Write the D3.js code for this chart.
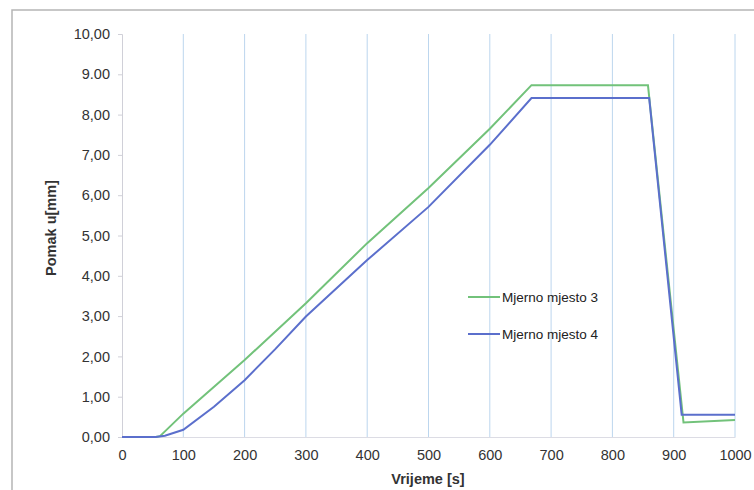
<!DOCTYPE html>
<html><head><meta charset="utf-8">
<script src="https://cdn.jsdelivr.net/npm/d3@7"></script>
<style>
html,body{margin:0;padding:0;background:#fff;}
svg{display:block;font-family:"Liberation Sans",Arial,sans-serif;}
</style></head>
<body><svg id="c" width="754" height="490"></svg>
<script>
const xTicks = [0,100,200,300,400,500,600,700,800,900,1000];
const yTicks = [0,1,2,3,4,5,6,7,8,9,10];
const yTickLabels = ["0,00","1,00","2,00","3,00","4,00","5,00","6,00","7,00","8,00","9.00","10,00"];
const seriesNames = ["Mjerno mjesto 3","Mjerno mjesto 4"];
const time3 = [0, 55, 62, 100, 200, 300, 400, 500, 600, 668, 858, 916, 1000];
const disp3 = [0, 0, 0.02, 0.58, 1.91, 3.32, 4.81, 6.18, 7.65, 8.73, 8.73, 0.36, 0.42];
const time4 = [0, 55, 70, 100, 150, 200, 250, 300, 400, 500, 600, 668, 860, 913, 1000];
const disp4 = [0, 0, 0.03, 0.18, 0.75, 1.41, 2.18, 2.99, 4.39, 5.71, 7.25, 8.41, 8.41, 0.55, 0.55];
const xTitle = "Vrijeme [s]";
const yTitle = "Pomak u[mm]";

const svg = d3.select("#c");
const FONT = "'Liberation Sans',Arial,sans-serif";
// outer frame
svg.append("rect").attr("x",12).attr("y",10).attr("width",760).attr("height",500)
  .attr("fill","none").attr("stroke","#b5b5b5").attr("stroke-width",1.5);

const x = d3.scaleLinear().domain([0,1000]).range([122,735]);
const y = d3.scaleLinear().domain([0,10]).range([437,34]);

// vertical gridlines
svg.append("g").selectAll("line").data(xTicks.filter(d=>d>0)).join("line")
  .attr("x1",d=>x(d)).attr("x2",d=>x(d)).attr("y1",y(10)).attr("y2",y(0))
  .attr("stroke","#bcd6ee").attr("stroke-width",1);

// y axis
const yAxis = d3.axisLeft(y).tickValues(yTicks).tickFormat((d,i)=>yTickLabels[i]).tickSize(4).tickPadding(8);
const gy = svg.append("g").attr("transform","translate(122,0)").call(yAxis);
gy.select(".domain").attr("stroke","#d0d0d8");
gy.selectAll(".tick line").attr("stroke","#d0d0d8");
gy.selectAll("text").attr("font-size",14.5).attr("fill","#333").attr("font-family",FONT);

// x axis
const xAxis = d3.axisBottom(x).tickValues(xTicks).tickFormat(d3.format("d")).tickSize(0).tickPadding(13);
const gx = svg.append("g").attr("transform","translate(0,437)").call(xAxis);
gx.select(".domain").attr("stroke","#dcdce4");
gx.selectAll("text").attr("font-size",14.5).attr("fill","#333").attr("font-family",FONT);

// lines
const line = d3.line().x(d=>x(d[0])).y(d=>y(d[1]));
const d3s = time3.map((t,i)=>[t,disp3[i]]);
const d4s = time4.map((t,i)=>[t,disp4[i]]);
svg.append("path").datum(d3s).attr("d",line).attr("fill","none").attr("stroke","#72c27a").attr("stroke-width",2);
svg.append("path").datum(d4s).attr("d",line).attr("fill","none").attr("stroke","#5b6fcc").attr("stroke-width",2);

// legend
const colors = ["#72c27a","#5b6fcc"];
const leg = svg.append("g");
seriesNames.forEach((n,i)=>{
  const ly = 297 + i*37;
  leg.append("line").attr("x1",468).attr("x2",500).attr("y1",ly).attr("y2",ly)
    .attr("stroke",colors[i]).attr("stroke-width",2);
  leg.append("text").attr("x",502).attr("y",ly+5).attr("font-size",13.5).attr("fill","#222").text(n);
});

// titles
svg.append("text").attr("x",428).attr("y",484).attr("text-anchor","middle")
  .attr("font-size",14.5).attr("font-weight","bold").attr("fill","#333").text(xTitle);
svg.append("text").attr("transform","translate(56,228) rotate(-90)").attr("text-anchor","middle")
  .attr("font-size",14.5).attr("font-weight","bold").attr("fill","#333").text(yTitle);
</script></body></html>
